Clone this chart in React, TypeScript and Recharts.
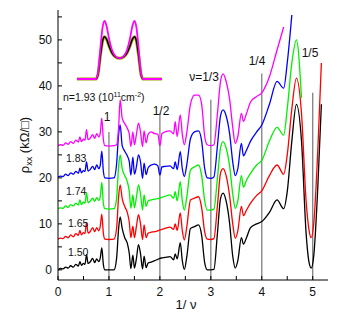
import { LineChart, Line, XAxis, YAxis, ReferenceLine } from "recharts";

// 1/nu positions shared by every trace
const xs = [
  0, 0.05, 0.1, 0.15, 0.2, 0.25, 0.3, 0.35, 0.4, 0.43,
  0.46, 0.5, 0.53, 0.56, 0.59, 0.63, 0.68, 0.72, 0.76, 0.8,
  0.83, 0.86, 0.89, 0.92, 1.0, 1.1, 1.15, 1.19, 1.22, 1.26,
  1.31, 1.36, 1.4, 1.43, 1.47, 1.5, 1.54, 1.58, 1.62, 1.66,
  1.69, 1.73, 1.77, 1.83, 1.9, 1.96, 2.0, 2.04, 2.1, 2.2,
  2.27, 2.3, 2.34, 2.4, 2.44, 2.48, 2.53, 2.6, 2.68, 2.76,
  2.82, 2.88, 2.93, 3.0, 3.06, 3.13, 3.19, 3.24, 3.3, 3.37,
  3.43, 3.48, 3.53, 3.6, 3.64, 3.7, 3.78, 3.9, 4.0, 4.15,
  4.3, 4.43, 4.5, 4.59, 4.68, 4.78, 4.87, 4.93, 4.97, 5.02,
  5.1, 5.17,
];

// rho_xx (kOhm), traces offset as in the figure
const n150 = [
  0, 0.3, 0.2, 0.6, 0.4, 0.9, 0.6, 1.2, 0.8, 1.8,
  1.0, 1.4, 1.2, 3.3, 1.4, 1.7, 2.5, 1.6, 2.4, 1.8,
  2.6, 4.8, 1.2, 0, 0, 0, 2.5, 9, 11.5, 9,
  7, 5.8, 3.5, 0.3, 3.2, 0.4, 2.5, 5.5, 3.5, 0.2,
  3, 0.5, 1.5, 1.7, 2.0, 2.3, 2.5, 2.6, 2.7, 2.9,
  2.2, 3.5, 2.4, 5.9, 2, 0.1, 3, 9, 9.4, 9.8,
  7.5, 1.5, 0, 0, 0.1, 8, 15.5, 16.7, 15, 10,
  3, 0.4, 2, 7, 5.6, 7, 9.2, 10, 10.5, 12.5,
  15.2, 13.3, 17, 28, 36, 28, 8, 1.5, 0.4, 3,
  18, 36,
];
const n165 = [
  6.7, 6.9, 6.8, 7.3, 7.0, 7.6, 7.2, 7.9, 7.5, 8.6,
  7.6, 8.1, 7.9, 10.3, 8.0, 8.3, 9.2, 8.3, 9.2, 8.5,
  9.5, 12.1, 8.0, 6.7, 6.6, 6.7, 9, 16, 18.5, 15.5,
  13.8, 12.5, 10.3, 7, 9.5, 7, 9.5, 12, 10, 6.6,
  9.8, 7, 8, 8.2, 8.3, 8.5, 8.7, 8.8, 9, 9.3,
  8.8, 10, 8.6, 12.4, 8.5, 6.5, 9.5, 15.2, 15.6, 15.9,
  13.5, 8.2, 6.7, 6.6, 6.8, 14, 21, 22, 20.5, 16,
  10, 6.9, 8.5, 13.8, 11.8, 13, 14.5, 16.2, 17.2, 20.5,
  22.8, 20.8, 25, 35, 41.7, 34, 15, 8.5, 7, 10,
  26, 45,
];
const n174 = [
  13.3, 13.5, 13.4, 13.9, 13.6, 14.2, 13.9, 14.5, 14.1, 15.2,
  14.2, 14.7, 14.5, 16.8, 14.6, 14.9, 15.6, 14.9, 15.7, 15.1,
  16, 19, 14.5, 13.3, 13.2, 13.3, 15.5, 22.5, 25, 22,
  20.5, 19.2, 17, 13.4, 16.3, 13.5, 15.8, 18.5, 16.5, 13,
  16.3, 13.8, 15, 15.2, 15.4, 15.5, 15.6, 15.8, 16, 16.3,
  15.6, 17, 15, 19.2, 15, 13, 16, 21.7, 22.4, 22.8,
  20.5, 15, 13, 13, 13.2, 20, 26.5, 27.9, 26.5, 22.5,
  16.5, 13.4, 15, 20.5, 18, 19.5, 21, 22.8, 23.8, 28,
  31, 29.3, 35, 45, 50, 37.4,
];
const n183 = [
  20.2, 20.4, 20.3, 20.8, 20.5, 21.1, 20.8, 21.4, 21, 22.1,
  21.1, 21.6, 21.4, 23.5, 21.5, 21.8, 22.5, 21.8, 22.8, 22,
  22.8, 25.8, 21.5, 20, 19.9, 20, 23, 29.5, 31.5, 27,
  25.8, 24.8, 23.5, 20.6, 24.5, 20.8, 22.5, 25, 23.5, 19.9,
  23.2, 20.7, 22.2, 22.8, 23, 22.6, 20.6, 22.4, 22.5, 22.6,
  22, 23.5, 21.8, 25.7, 22, 20.3, 23, 28.5, 30, 30.2,
  28, 22, 20, 19.9, 20.2, 27, 33.5, 34.8, 33.5, 29.5,
  23.5, 20.5, 22, 27.5, 24.8, 26, 28, 30, 31.5, 36,
  41, 39.5, 45, 55.4,
];
const n193 = [
  27, 27.2, 27.1, 27.6, 27.3, 27.9, 27.5, 28.2, 27.8, 28.9,
  27.9, 28.4, 28.2, 30.5, 28.3, 28.6, 29.4, 28.6, 29.6, 28.9,
  29.8, 33, 28.4, 27, 26.9, 27, 27.2, 31, 37, 33,
  31.8, 30.8, 29.5, 26.8, 30, 27.2, 29.5, 31.9, 30, 26.8,
  30.2, 27.6, 29.5, 30, 29.6, 29.5, 27, 29.6, 30, 30.2,
  29.6, 32.2, 29, 33.7, 29.5, 27.2, 30, 36, 38, 38,
  36, 29, 27.2, 27, 27.2, 34, 41, 42.6, 41, 37,
  31, 27.5, 29, 34, 32.3, 34, 36.5, 37.7, 38.5, 42,
  47.8, 52.8,
];

const traces = [
  { key: "n150", color: "#000000", values: n150 },
  { key: "n165", color: "#ff0000", values: n165 },
  { key: "n174", color: "#00f000", values: n174 },
  { key: "n183", color: "#0000ff", values: n183 },
  { key: "n193", color: "#ff00ff", values: n193 },
];

const data = xs.map((x, i) => {
  const row: Record<string, number | null> = { x };
  traces.forEach((t) => {
    row[t.key] = t.values[i] ?? null;
  });
  return row;
});

// filling-factor markers: position and how high the grey line reaches
const fracX = [1, 2, 3, 4, 5];
const fracTop = [30, 34, 37, 42.7, 38.5];

const bottomTicks = [0, 0.5, 1, 1.5, 2, 2.5, 3, 3.5, 4, 4.5, 5];
const topTicks = [1, 1.2, 2, 2.5, 3, 3.5, 4, 4.5, 5];
const leftTicks = [0, 5, 10, 15, 20, 25, 30, 35, 40, 45, 50, 55];
const rightTicks = [0.2, 9.2, 18.3, 27.2, 36.3, 45.2, 54.3];

// inset: schematic double peak (arbitrary units)
const insetX = [0, 19, 21, 23.5, 25.5, 27.5, 29.5, 32, 35, 38.5, 42.5, 46.5, 50, 53, 55.5, 57.5, 59.5, 61.5, 64, 66, 85];
const insetTop = [0, 0, 0.1, 0.55, 0.88, 1.0, 0.92, 0.7, 0.5, 0.39, 0.357, 0.39, 0.5, 0.7, 0.92, 1.0, 0.88, 0.55, 0.1, 0, 0];
const insetLow = [0, 0, 0.08, 0.42, 0.65, 0.73, 0.69, 0.57, 0.45, 0.38, 0.357, 0.38, 0.45, 0.57, 0.69, 0.73, 0.65, 0.42, 0.08, 0, 0];
const insetData = insetX.map((x, i) => ({ x, hi: insetTop[i], lo: insetLow[i] }));

const font = "'Liberation Sans', Arial, Helvetica, sans-serif";

// plot box edges (px) from the chart margins and axis sizes below
const L = 58;
const R = 328;
const T = 10;
const B = 280;
const TICK = 4;

const BottomTick = ({ x, payload }: any) => (
  <g>
    <line x1={x} x2={x} y1={B} y2={B - TICK} stroke="#000" />
    {Number.isInteger(payload.value) && (
      <text x={x} y={296} textAnchor="middle" fontSize={12} fill="#111" fontFamily={font}>
        {payload.value}
      </text>
    )}
  </g>
);

const TopTick = ({ x }: any) => <line x1={x} x2={x} y1={T} y2={T + TICK} stroke="#000" />;

const LeftTick = ({ y, payload }: any) => (
  <g>
    <line x1={L} x2={L + TICK} y1={y} y2={y} stroke="#000" />
    {payload.value % 10 === 0 && (
      <text x={52} y={y + 4.3} textAnchor="end" fontSize={12} fill="#111" fontFamily={font}>
        {payload.value}
      </text>
    )}
  </g>
);

const RightTick = ({ y }: any) => <line x1={R - TICK} x2={R} y1={y} y2={y} stroke="#000" />;

export default function App() {
  return (
    <div style={{ position: "absolute", left: 0, top: 0, width: 340, height: 316, background: "#fff" }}>
      <LineChart width={340} height={316} data={data} margin={{ top: T, right: 340 - R, bottom: 0, left: 0 }}>
        <XAxis
          xAxisId="b"
          dataKey="x"
          type="number"
          domain={[0, 5.3]}
          ticks={bottomTicks}
          interval={0}
          tick={<BottomTick />}
          tickLine={false}
          height={316 - B}
          stroke="#000"
          allowDataOverflow
        />
        <XAxis
          xAxisId="t"
          orientation="top"
          type="number"
          dataKey="x"
          domain={[0, 5.3]}
          ticks={topTicks}
          interval={0}
          tick={<TopTick />}
          tickLine={false}
          height={0}
          stroke="#000"
          allowDataOverflow
        />
        <YAxis
          yAxisId="l"
          type="number"
          domain={[-2.2, 56.5]}
          ticks={leftTicks}
          interval={0}
          tick={<LeftTick />}
          tickLine={false}
          width={L}
          stroke="#000"
          allowDataOverflow
        />
        <YAxis
          yAxisId="r"
          orientation="right"
          type="number"
          domain={[-2.2, 56.5]}
          ticks={rightTicks}
          interval={0}
          tick={<RightTick />}
          tickLine={false}
          width={0}
          stroke="#000"
          allowDataOverflow
        />
        {fracX.map((fx, i) => (
          <ReferenceLine
            key={fx}
            xAxisId="b"
            yAxisId="l"
            segment={[
              { x: fx, y: -2.2 },
              { x: fx, y: fracTop[i] },
            ]}
            stroke="#808080"
            strokeWidth={1.3}
          />
        ))}
        {traces.map((t) => (
          <Line
            key={t.key}
            xAxisId="b"
            yAxisId="l"
            dataKey={t.key}
            type="monotone"
            stroke={t.color}
            strokeWidth={1.3}
            dot={false}
            activeDot={false}
            isAnimationActive={false}
          />
        ))}
      </LineChart>

      <div style={{ position: "absolute", left: 75, top: 19 }}>
        <LineChart width={89} height={62} data={insetData} margin={{ top: 2, right: 2, bottom: 2, left: 2 }}>
          <XAxis dataKey="x" type="number" domain={[0, 85]} hide />
          <YAxis type="number" domain={[0, 1]} hide />
          <Line dataKey="lo" type="monotone" stroke="#a0a000" strokeWidth={3} dot={false} isAnimationActive={false} />
          <Line dataKey="lo" type="monotone" stroke="#000" strokeWidth={1.5} dot={false} isAnimationActive={false} />
          <Line dataKey="hi" type="monotone" stroke="#ff00ff" strokeWidth={1.8} dot={false} isAnimationActive={false} />
        </LineChart>
      </div>

      <svg
        width={340}
        height={316}
        style={{ position: "absolute", left: 0, top: 0, pointerEvents: "none" }}
        fontFamily={font}
        fill="#111"
      >
        <text x={107} y={121} fontSize={12} textAnchor="middle">1</text>
        <text x={161} y={115} fontSize={12} textAnchor="middle">1/2</text>
        <text x={204} y={81} fontSize={12} textAnchor="middle">ν=1/3</text>
        <text x={257} y={65} fontSize={12} textAnchor="middle">1/4</text>
        <text x={310} y={57} fontSize={12} textAnchor="middle">1/5</text>
        <text x={63} y={101} fontSize={10.5}>
          n=1.93 (10
          <tspan dy={-4} fontSize={7}>11</tspan>
          <tspan dy={4}>cm</tspan>
          <tspan dy={-4} fontSize={7}>-2</tspan>
          <tspan dy={4}>)</tspan>
        </text>
        <text x={66} y={162} fontSize={10.5}>1.83</text>
        <text x={66} y={195} fontSize={10.5}>1.74</text>
        <text x={68} y={227} fontSize={10.5}>1.65</text>
        <text x={68} y={256} fontSize={10.5}>1.50</text>
        <text x={186} y={309} fontSize={13} textAnchor="middle">1/ ν</text>
        <text transform="translate(29,145) rotate(-90)" fontSize={13} textAnchor="middle">
          ρ
          <tspan dy={3} fontSize={9}>xx</tspan>
          <tspan dy={-3}> (kΩ/□)</tspan>
        </text>
      </svg>
    </div>
  );
}
